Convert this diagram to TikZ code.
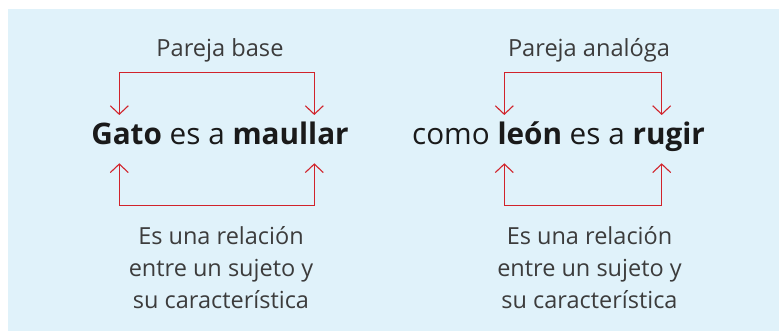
\documentclass[tikz,border=0pt]{standalone}
\usepackage{fontspec}
\setmainfont{Open Sans}
\usetikzlibrary{arrows.meta}
\definecolor{panel}{HTML}{E0F2FA}
\definecolor{brred}{HTML}{D1232B}
\definecolor{txtgray}{HTML}{3C3C3C}
\definecolor{txtdark}{HTML}{1A1A1A}
\tikzset{
  brk/.style={draw=brred, line width=1.1pt, {Straight Barb[length=8.5pt,width=18pt]}-{Straight Barb[length=8.5pt,width=18pt]}},
  label/.style={inner sep=0pt, anchor=base, text=txtgray, font=\fontsize{23.6}{26}\selectfont},
  mainline/.style={inner sep=0pt, anchor=base, text=txtdark, font=\fontsize{29.7}{34}\selectfont},
  desc/.style={inner sep=0pt, anchor=base, text=txtgray, align=center, font=\fontsize{23.5}{32}\selectfont}
}
\begin{document}
\begin{tikzpicture}[x=1pt,y=-1pt]
\useasboundingbox (0,0) rectangle (779,331);
\fill[panel] (8,9) rectangle (779,331);
% labels
\node[label] (pb) at (220,56.7) {Pareja base};
\node[label] (pa) at (589,56.7) {Pareja analóga};
% main sentences
\node[mainline] (s1) at (220,145) {\textbf{Gato} es a \textbf{maullar}};
\node[mainline] (s2) at (558.5,145) {como \textbf{león} es a \textbf{rugir}};
% descriptions (base anchor = baseline of last line)
\node[desc] (d1) at (221,308.3) {Es una relación\\entre un sujeto y\\su característica};
\node[desc] (d2) at (589.5,308.3) {Es una relación\\entre un sujeto y\\su característica};
% bracket coordinates
\coordinate (l1t) at (119.3,115);
\coordinate (l2t) at (314.3,115);
\coordinate (l1b) at (119.3,163.3);
\coordinate (l2b) at (314.3,163.3);
\coordinate (r1t) at (504.3,115);
\coordinate (r2t) at (661.7,115);
\coordinate (r1b) at (504.3,163.3);
\coordinate (r2b) at (661.7,163.3);
\draw[brk] (l1t) -- (119.3,72.7) -- (314.3,72.7) -- (l2t);
\draw[brk] (l1b) -- (119.3,205.7) -- (314.3,205.7) -- (l2b);
\draw[brk] (r1t) -- (504.3,72.7) -- (661.7,72.7) -- (r2t);
\draw[brk] (r1b) -- (504.3,205.7) -- (661.7,205.7) -- (r2b);
\end{tikzpicture}
\end{document}
